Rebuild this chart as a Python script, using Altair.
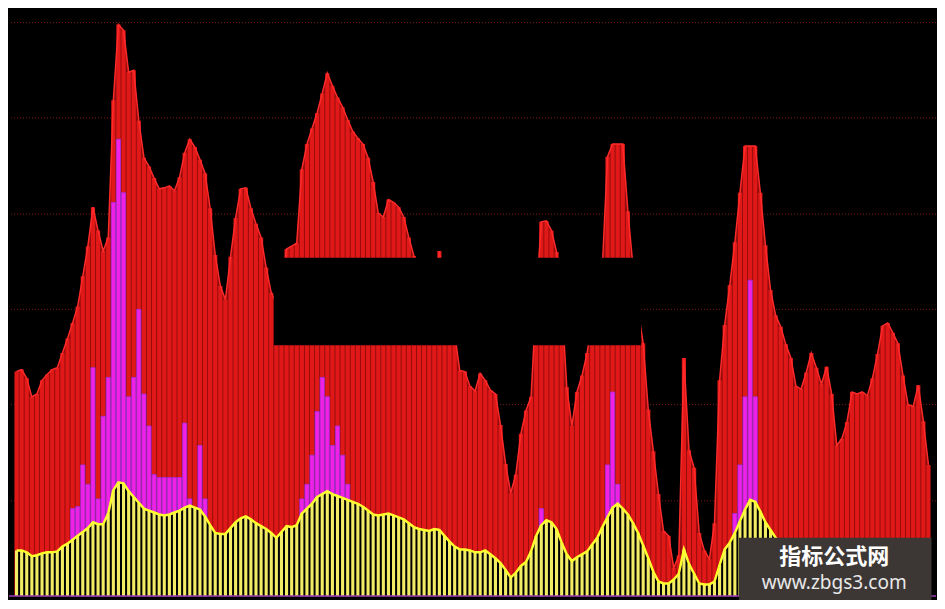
import altair as alt
import pandas as pd

# ---- series values (one value per bar) ----
red = [
    231, 233, 224, 205, 208, 222, 228, 233, 235, 250,
    265, 281, 298, 329, 360, 400, 376, 355, 369, 510,
    588, 582, 539, 541, 489, 451, 442, 430, 419, 420,
    422, 417, 431, 456, 470, 462, 449, 435, 399, 351,
    319, 305, 349, 389, 419, 420, 399, 383, 369, 338,
    312, 302, 315, 357, 360, 363, 439, 465, 481, 497,
    517, 538, 525, 513, 503, 490, 478, 471, 465, 451,
    426, 394, 390, 408, 405, 400, 390, 369, 350, 325,
    313, 307, 305, 355, 305, 295, 270, 232, 231, 216,
    211, 229, 222, 212, 208, 176, 136, 106, 125, 167,
    191, 205, 305, 385, 386, 376, 354, 305, 215, 175,
    210, 227, 250, 285, 305, 340, 452, 465, 465, 465,
    396, 339, 295, 260, 192, 149, 105, 67, 62, 29,
    42, 245, 150, 132, 65, 47, 38, 75, 222, 279,
    320, 364, 415, 463, 463, 463, 415, 361, 315, 289,
    277, 259, 245, 216, 213, 230, 250, 235, 218, 236,
    208, 155, 162, 179, 210, 208, 210, 206, 224, 249,
    278, 281, 271, 260, 227, 197, 195, 217, 180, 135,
]

magenta = [
    0, 0, 0, 0, 0, 0, 0, 0, 0, 0,
    0, 90, 92, 135, 115, 235, 100, 185, 225, 405,
    470, 415, 205, 225, 295, 208, 175, 125, 122, 122,
    122, 122, 122, 178, 100, 0, 155, 100, 0, 0,
    0, 0, 0, 0, 0, 0, 0, 0, 0, 0,
    0, 0, 0, 0, 0, 0, 100, 115, 145, 190,
    225, 205, 155, 175, 145, 115, 0, 0, 0, 0,
    0, 0, 0, 0, 0, 0, 0, 0, 0, 0,
    0, 0, 0, 0, 0, 0, 0, 0, 0, 0,
    0, 0, 0, 0, 0, 0, 0, 0, 0, 0,
    0, 0, 0, 90, 0, 0, 0, 0, 0, 0,
    0, 0, 0, 0, 0, 0, 135, 210, 115, 0,
    0, 0, 0, 0, 0, 0, 0, 0, 0, 0,
    0, 0, 0, 0, 0, 0, 0, 0, 0, 0,
    0, 85, 135, 205, 325, 205, 0, 0, 0, 0,
    0, 0, 0, 0, 0, 0, 0, 0, 0, 0,
    0, 0, 0, 0, 0, 0, 0, 0, 0, 0,
    0, 0, 0, 0, 0, 0, 0, 0, 0, 0,
]

yellow = [
    47, 47, 45, 41, 42, 44, 45, 45, 46, 51,
    54, 58, 62, 66, 70, 76, 74, 74, 85, 109,
    117, 116, 108, 102, 96, 90, 88, 86, 84, 83,
    84, 86, 88, 91, 93, 91, 89, 82, 73, 65,
    64, 64, 70, 76, 80, 82, 79, 75, 72, 69,
    65, 60, 66, 72, 71, 73, 85, 90, 95, 102,
    105, 108, 105, 103, 101, 99, 97, 95, 92, 88,
    84, 83, 84, 85, 83, 81, 79, 75, 71, 69,
    68, 67, 69, 68, 62, 56, 51, 48, 48, 47,
    45, 45, 47, 43, 39, 34, 27, 19, 24, 31,
    35, 46, 62, 73, 78, 76, 69, 55, 43, 36,
    40, 43, 46, 53, 60, 71, 81, 91, 95, 90,
    84, 75, 65, 52, 39, 25, 15, 13, 13, 17,
    23, 48, 33, 23, 13, 12, 12, 15, 32, 48,
    55, 65, 77, 89, 99, 97, 87, 76, 68, 60,
    55, 50, 47, 45, 43, 40, 38, 37, 35, 33,
    31, 33, 35, 37, 39, 40, 42, 43, 45, 45,
    47, 49, 50, 52, 53, 53, 52, 50, 49, 47,
]

grid_levels = [98, 197, 295, 393, 492, 590]

# blacked-out block and watermark badge, in data units
mask_box = {"x": 50.5, "x2": 122.6, "y": 258, "y2": 348}
badge_box = {"x": 141.8, "x2": 179.6, "y": -4, "y2": 60}
badge_title = "指标公式网"
badge_url = "www.zbgs3.com"
badge_text = [
    {"x": 160.5, "y": 40, "t": badge_title},
    {"x": 160.5, "y": 14, "t": badge_url},
]

n = len(red)
df = pd.DataFrame({"i": list(range(n)), "red": red, "magenta": magenta, "yellow": yellow})

xs = alt.Scale(domain=[-0.5, n - 0.5], nice=False, zero=False)
ys = alt.Scale(domain=[-4, 605], nice=False, zero=False)
X = alt.X("i:Q", scale=xs, axis=None)


def Y(field):
    return alt.Y(field, scale=ys, axis=None)


base = alt.Chart(df)

grid = alt.Chart(pd.DataFrame({"g": grid_levels})).mark_rule(
    color="#7c1818", strokeDash=[1, 2], strokeWidth=1
).encode(y=Y("g:Q"))

red_shadow = base.mark_area(color="#8e0c0c", interpolate="linear").encode(x=X, y=Y("red:Q"))
red_bars = base.mark_bar(color="#e01818", size=4.2, orient="vertical").encode(
    x=X, y=Y("red:Q"), y2=alt.datum(0)
)
red_line = base.mark_line(color="#ff2a2a", strokeWidth=1.5).encode(x=X, y=Y("red:Q"))

mag_bars = base.transform_filter("datum.magenta > 0").mark_bar(
    color="#f020e6", size=4.2, orient="vertical", stroke="#9a30d8", strokeWidth=0.8
).encode(x=X, y=Y("magenta:Q"), y2=alt.datum(0))

yel_shadow = base.mark_area(color="#000000").encode(x=X, y=Y("yellow:Q"))
yel_bars = base.mark_bar(color="#f2ec64", size=3.1, orient="vertical").encode(
    x=X, y=Y("yellow:Q"), y2=alt.datum(0)
)
yel_line = base.mark_line(color="#ffff2e", strokeWidth=2.5).encode(x=X, y=Y("yellow:Q"))

bottom = alt.Chart(pd.DataFrame({"z": [0]})).mark_rule(color="#9c3cb4", strokeWidth=1.5).encode(
    y=Y("z:Q")
)

mask = alt.Chart(pd.DataFrame([mask_box])).mark_rect(color="#000000").encode(
    x=alt.X("x:Q", scale=xs, axis=None), x2="x2:Q", y=Y("y:Q"), y2="y2:Q"
)

badge = alt.Chart(pd.DataFrame([badge_box])).mark_rect(color="#3c3735").encode(
    x=alt.X("x:Q", scale=xs, axis=None), x2="x2:Q", y=Y("y:Q"), y2="y2:Q"
)

tdf = pd.DataFrame(badge_text)
title_txt = alt.Chart(tdf.iloc[[0]]).mark_text(
    font="Noto Sans CJK SC", fontWeight="bold", fontSize=22, color="#ffffff",
    align="center", baseline="middle"
).encode(x=alt.X("x:Q", scale=xs, axis=None), y=Y("y:Q"), text="t:N")
url_txt = alt.Chart(tdf.iloc[[1]]).mark_text(
    font="Noto Sans", fontSize=19, color="#e8e8e8", align="center", baseline="middle"
).encode(x=alt.X("x:Q", scale=xs, axis=None), y=Y("y:Q"), text="t:N")

chart = alt.layer(
    grid, red_shadow, red_bars, red_line, mag_bars, yel_shadow, yel_bars, yel_line,
    bottom, mask, badge, title_txt, url_txt
).properties(
    width=929, height=592,
    autosize=alt.AutoSizeParams(type="fit", contains="padding"),
    padding=0,
    background="#000000",
).configure_view(strokeWidth=0)

chart.save("out.html", embed_options={"renderer": "svg", "actions": False})
